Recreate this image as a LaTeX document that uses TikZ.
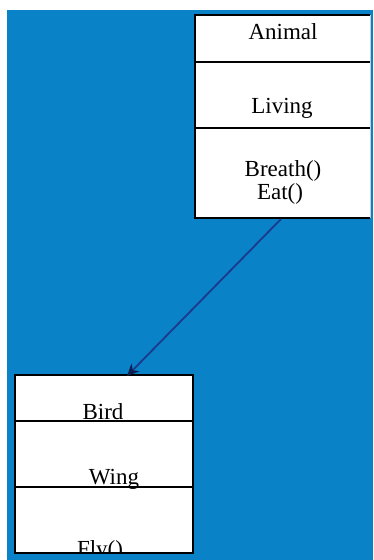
\documentclass[tikz,border=0pt]{standalone}
\usepackage{fontspec}
\setmainfont{Liberation Serif}
\usetikzlibrary{arrows.meta}
\definecolor{bgblue}{RGB}{10,130,200}
\definecolor{arrowblue}{RGB}{28,58,140}
\definecolor{tipnavy}{RGB}{15,30,80}
\tikzset{
  boxline/.style={draw=black, line width=1.2pt},
  lbl/.style={inner sep=0pt, anchor=base, font=\fontsize{23}{26}\selectfont},
  conn/.style={draw=arrowblue, line width=1.8pt, -{Stealth[length=12pt,width=11pt,color=tipnavy]}}
}
\begin{document}
\begin{tikzpicture}[x=1pt,y=-1pt]
\useasboundingbox (0,0) rectangle (373,560);
\fill[white] (0,0) rectangle (373,560);
\fill[bgblue] (7,10) rectangle (373,560);
% Animal class
\fill[white] (195,15) rectangle (370,218);
\draw[boxline] (370,218) -- (195,218) -- (195,15) -- (370,15);
\draw[draw=gray!40, line width=0.8pt] (370,15) -- (370,218);
\draw[boxline] (195,62) -- (370,62);
\draw[boxline] (195,128) -- (370,128);
\node[lbl] (animalname) at (283,39) {Animal};
\node[lbl] (animalattr) at (282,113) {Living};
\node[lbl] (animalop1) at (283,176) {Breath()};
\node[lbl] (animalop2) at (280,199) {Eat()};
% Bird class
\fill[white] (15,375) rectangle (193,553);
\draw[boxline] (15,375) rectangle (193,553);
\draw[boxline] (15,421) -- (193,421);
\draw[boxline] (15,487) -- (193,487);
\node[lbl] (birdname) at (103,419) {Bird};
\node[lbl] (birdattr) at (114,484) {Wing};
\begin{scope}
\clip (15,375) rectangle (193,552);
\node[lbl] (birdop) at (100,556) {Fly()};
\end{scope}
% association arrow
\coordinate (astart) at (281,219);
\coordinate (aend) at (127,376);
\draw[conn] (astart) -- (aend);
\end{tikzpicture}
\end{document}
